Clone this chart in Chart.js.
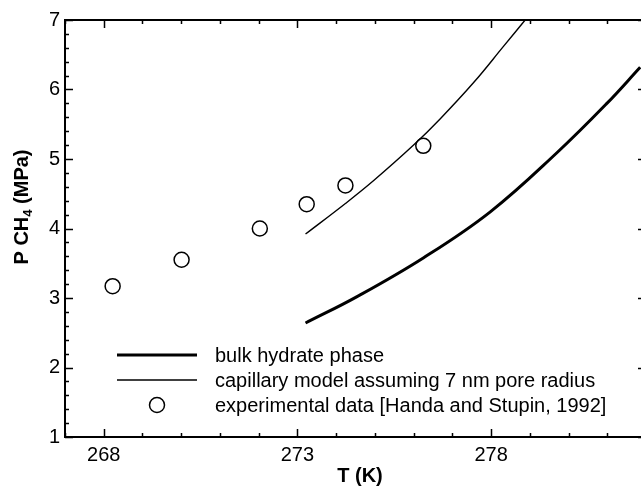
<!DOCTYPE html>
<html><head><meta charset="utf-8">
<script src="https://cdn.jsdelivr.net/npm/chart.js@4.4.1/dist/chart.umd.min.js"></script>
<style>html,body{margin:0;padding:0;background:#fff;overflow:hidden;width:641px;height:488px}#wrap{width:660px;height:488px}</style>
</head><body><div id="wrap"><canvas id="c" width="660" height="488"></canvas></div>
<script>
// ---- data ----
const bulkT = [273.21, 274.54, 276.26, 277.98, 279.70, 280.99, 281.85];
const bulkP = [2.64, 3.02, 3.58, 4.24, 5.09, 5.80, 6.32];
const capT = [273.21, 274.24, 274.97, 276.00, 276.69, 277.55, 278.32, 278.88];
const capP = [3.92, 4.36, 4.69, 5.20, 5.58, 6.10, 6.62, 7.00];
const expT = [268.23, 270.01, 272.03, 273.24, 274.24, 276.25];
const expP = [3.17, 3.55, 4.00, 4.35, 4.62, 5.19];
const xTickLabels = [268, 273, 278];
const yTickLabels = [1, 2, 3, 4, 5, 6, 7];
const seriesLabels = ['bulk hydrate phase', 'capillary model assuming 7 nm pore radius', 'experimental data [Handa and Stupin, 1992]'];
const xTitle = 'T (K)';
const yTitleParts = ['P CH', '4', ' (MPa)'];

const FONT = '"Liberation Sans", Arial, Helvetica, sans-serif';
const toXY = (xs, ys) => xs.map((x, i) => ({x: x, y: ys[i]}));
const isMajorY = v => yTickLabels.some(t => Math.abs(t - v) < 1e-6);
const isMajorX = v => xTickLabels.some(t => Math.abs(t - v) < 1e-6);

const framePlugin = {
  id: 'frame',
  afterDatasetsDraw(chart) {
    const {ctx, chartArea: a, scales: {x, y}} = chart;
    ctx.save();
    ctx.strokeStyle = '#000';
    ctx.lineWidth = 2;
    ctx.strokeRect(a.left, a.top, a.right - a.left, a.bottom - a.top);
    ctx.lineWidth = 1.5;
    ctx.beginPath();
    x.ticks.forEach(t => {
      const px = Math.round(x.getPixelForValue(t.value)) + 0.5;
      const len = isMajorX(t.value) ? 8 : 4;
      ctx.moveTo(px, a.bottom); ctx.lineTo(px, a.bottom - len);
      ctx.moveTo(px, a.top); ctx.lineTo(px, a.top + len);
    });
    y.ticks.forEach(t => {
      const py = Math.round(y.getPixelForValue(t.value)) + 0.5;
      const len = isMajorY(t.value) ? 8 : 4;
      ctx.moveTo(a.left, py); ctx.lineTo(a.left + len, py);
      ctx.moveTo(a.right, py); ctx.lineTo(a.right - len, py);
    });
    ctx.stroke();
    ctx.restore();
  }
};

const titlePlugin = {
  id: 'axisTitles',
  afterDraw(chart, args, opts) {
    const {ctx} = chart;
    ctx.save();
    ctx.fillStyle = '#000';
    ctx.textBaseline = 'middle';
    ctx.font = 'bold 20px ' + FONT;
    ctx.textAlign = 'center';
    ctx.fillText(xTitle, opts.xCx, opts.xCy);
    ctx.translate(opts.yCx, opts.yCy);
    ctx.rotate(-Math.PI / 2);
    ctx.textAlign = 'left';
    const big = 'bold 20px ' + FONT, small = 'bold 13px ' + FONT;
    ctx.font = big; const w0 = ctx.measureText(yTitleParts[0]).width;
    const w2 = ctx.measureText(yTitleParts[2]).width;
    ctx.font = small; const w1 = ctx.measureText(yTitleParts[1]).width;
    let xs = -(w0 + w1 + w2) / 2;
    ctx.font = big; ctx.fillText(yTitleParts[0], xs, 0); xs += w0;
    ctx.font = small; ctx.fillText(yTitleParts[1], xs, 6); xs += w1;
    ctx.font = big; ctx.fillText(yTitleParts[2], xs, 0);
    ctx.restore();
  }
};

const legendPlugin = {
  id: 'boxLegend',
  afterDraw(chart, args, opts) {
    const {ctx} = chart;
    ctx.save();
    ctx.font = '20px ' + FONT;
    ctx.fillStyle = '#000';
    ctx.textBaseline = 'middle';
    ctx.textAlign = 'left';
    chart.data.datasets.forEach((ds, i) => {
      const yy = opts.y0 + i * opts.dy;
      ctx.beginPath();
      ctx.lineWidth = ds.borderWidth;
      ctx.strokeStyle = ds.borderColor;
      if (ds.showLine === false) {
        ctx.arc((opts.x0 + opts.x1) / 2, yy, ds.pointRadius, 0, Math.PI * 2);
      } else {
        ctx.moveTo(opts.x0, yy); ctx.lineTo(opts.x1, yy);
      }
      ctx.stroke();
      ctx.fillText(ds.label, opts.tx, yy + 1);
    });
    ctx.restore();
  }
};

new Chart(document.getElementById('c'), {
  type: 'scatter',
  data: {
    datasets: [
      {label: seriesLabels[0], data: toXY(bulkT, bulkP), showLine: true, borderColor: '#000', borderWidth: 3,
       pointRadius: 0, tension: 0.4, fill: false},
      {label: seriesLabels[1], data: toXY(capT, capP), showLine: true, borderColor: '#000', borderWidth: 1.4,
       pointRadius: 0, tension: 0.4, fill: false},
      {label: seriesLabels[2], data: toXY(expT, expP), showLine: false, borderColor: '#000', borderWidth: 1.5,
       backgroundColor: 'rgba(0,0,0,0)', pointRadius: 7.5, pointStyle: 'circle'}
    ]
  },
  options: {
    responsive: false,
    animation: false,
    layout: {padding: {top: 20, right: 14, left: 0, bottom: 0}},
    plugins: {
      legend: {display: false},
      tooltip: {enabled: false},
      boxLegend: {x0: 117, x1: 197, tx: 215, y0: 355, dy: 25},
      axisTitles: {xCx: 360, xCy: 476, yCx: 22, yCy: 207}
    },
    scales: {
      x: {
        type: 'linear', min: 267, max: 282,
        afterFit: s => { s.height = 51; },
        grid: {display: false, drawTicks: false},
        border: {display: false},
        ticks: {stepSize: 1, autoSkip: false, maxRotation: 0, padding: 6, color: '#000',
                font: {family: FONT, size: 20},
                callback: v => isMajorX(v) ? String(Math.round(v)) : ''},
        title: {display: false}
      },
      y: {
        type: 'linear', min: 1, max: 7,
        afterFit: s => { s.width = 65; },
        grid: {display: false, drawTicks: false},
        border: {display: false},
        ticks: {stepSize: 0.2, autoSkip: false, padding: 5, color: '#000',
                font: {family: FONT, size: 20},
                callback: v => isMajorY(v) ? String(Math.round(v)) : ''},
        title: {display: false}
      }
    }
  },
  plugins: [framePlugin, titlePlugin, legendPlugin]
});
</script>
</body></html>
